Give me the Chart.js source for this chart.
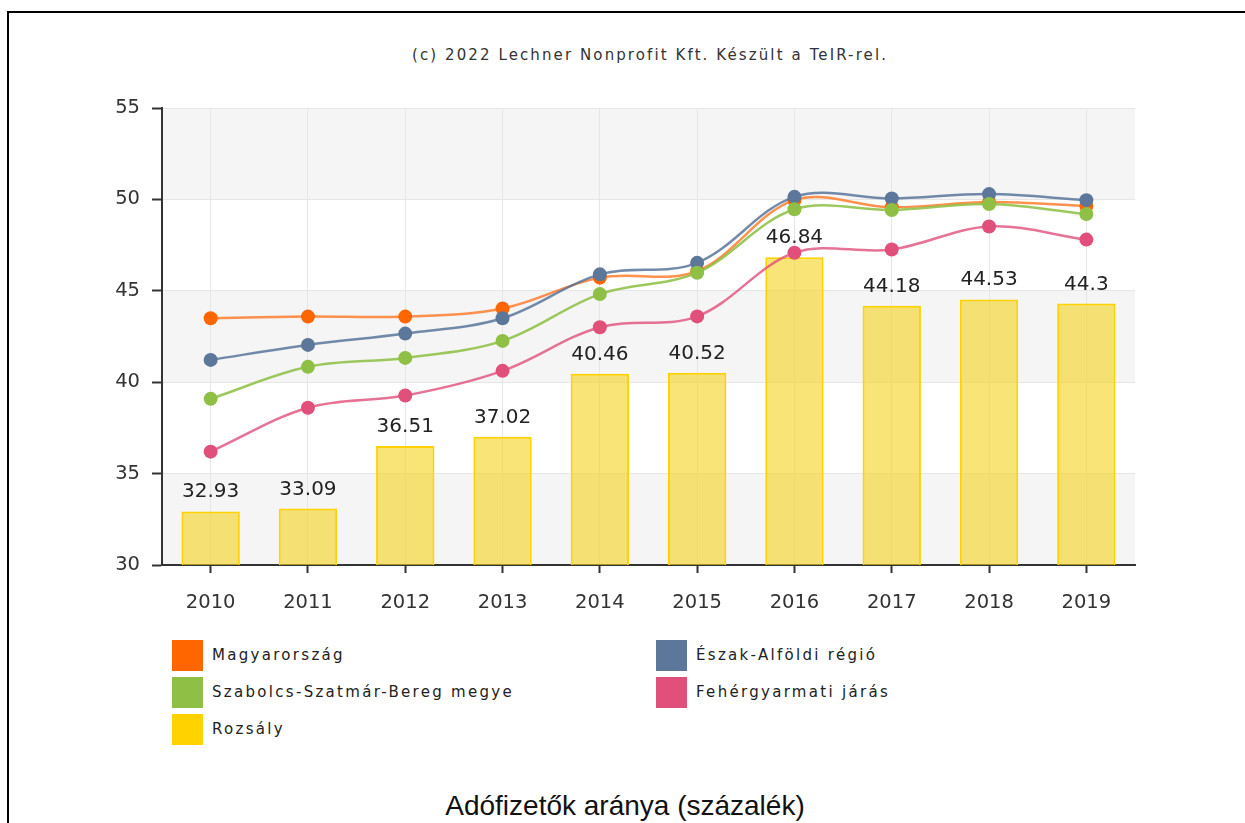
<!DOCTYPE html>
<html>
<head>
<meta charset="utf-8">
<script src="https://cdn.jsdelivr.net/npm/chart.js@4.4.1/dist/chart.umd.min.js"></script>
<style>
body{margin:0;background:#fff;width:1245px;height:823px;overflow:hidden;position:relative;font-family:"DejaVu Sans",sans-serif;}
#frame{position:absolute;left:7px;top:11px;width:1300px;height:900px;border:2px solid #000;}
#credit{position:absolute;left:0;top:45px;width:1300px;text-align:center;font-size:15px;letter-spacing:2.1px;color:#333;line-height:20px;}
#chartBox{position:absolute;left:0;top:0;}
.lg{position:absolute;height:31px;line-height:31px;font-size:15px;letter-spacing:2.3px;color:#222;white-space:nowrap;}
.lg span{position:absolute;left:0;top:0;width:31px;height:31px;}
.lg b{position:absolute;left:40px;top:0;font-weight:normal;}
#title{position:absolute;left:0;top:790px;width:1250px;text-align:center;font-family:"Liberation Sans",Arial,sans-serif;font-size:28px;line-height:32px;color:#111;}
</style>
</head>
<body>
<div id="frame"></div>
<div id="credit">(c) 2022 Lechner Nonprofit Kft. Készült a TeIR-rel.</div>
<div id="chartBox"><canvas id="chart" width="1245" height="640"></canvas></div>
<div id="legend"></div>
<div id="title">Adófizetők aránya (százalék)</div>
<script>
// adatok
var years = ['2010', '2011', '2012', '2013', '2014', '2015', '2016', '2017', '2018', '2019'];
var magyarorszag = [43.5, 43.59, 43.59, 44.03, 45.72, 46.08, 49.96, 49.57, 49.86, 49.64];
var eszakAlfold = [41.22, 42.04, 42.66, 43.5, 45.9, 46.53, 50.14, 50.05, 50.29, 49.96];
var szabolcs = [39.09, 40.84, 41.33, 42.26, 44.82, 45.99, 49.46, 49.42, 49.75, 49.2];
var fehergyarmat = [36.2, 38.6, 39.27, 40.62, 43.01, 43.6, 47.08, 47.26, 48.52, 47.8];
var rozsaly = [32.93, 33.09, 36.51, 37.02, 40.46, 40.52, 46.84, 44.18, 44.53, 44.3];
var seriesNames = ['Magyarország', 'Észak-Alföldi régió', 'Szabolcs-Szatmár-Bereg megye', 'Fehérgyarmati járás', 'Rozsály'];
var seriesColors = ['#ff6600', '#5c7799', '#8fbf45', '#e0507a', '#ffd200'];
var yTicks = [30, 35, 40, 45, 50, 55];

var lineColors = ['rgba(255,110,20,0.75)', 'rgba(80,110,150,0.8)', 'rgba(140,190,65,0.85)', 'rgba(224,80,122,0.8)'];

// legenda
var legend = document.getElementById('legend');
seriesNames.forEach(function (name, i) {
    var d = document.createElement('div');
    d.className = 'lg';
    d.style.left = (172 + (i % 2) * 484) + 'px';
    d.style.top = (640 + Math.floor(i / 2) * 37) + 'px';
    d.innerHTML = '<span style="background:' + seriesColors[i] + '"></span><b>' + name + '</b>';
    legend.appendChild(d);
});

function lineSet(idx, data, order) {
    return {
        type: 'line',
        label: seriesNames[idx],
        data: data,
        borderColor: lineColors[idx],
        borderWidth: 2.5,
        backgroundColor: seriesColors[idx],
        pointBackgroundColor: seriesColors[idx],
        pointBorderWidth: 0,
        pointRadius: 7,
        tension: 0.35,
        fill: false,
        order: order
    };
}

var bandPlugin = {
    id: 'bands',
    beforeDraw: function (chart) {
        var ctx = chart.ctx, a = chart.chartArea, y = chart.scales.y;
        ctx.save();
        ctx.fillStyle = '#f5f5f5';
        for (var i = 0; i < yTicks.length - 1; i += 2) {
            var top = y.getPixelForValue(yTicks[i + 1]);
            var bot = y.getPixelForValue(yTicks[i]);
            ctx.fillRect(a.left, top, a.right - a.left, bot - top);
        }
        ctx.restore();
    }
};

var labelPlugin = {
    id: 'barLabels',
    afterDatasetsDraw: function (chart) {
        var ctx = chart.ctx;
        var meta = chart.getDatasetMeta(4);
        ctx.save();
        ctx.font = '20px "DejaVu Sans"';
        ctx.fillStyle = '#222';
        ctx.textAlign = 'center';
        ctx.textBaseline = 'alphabetic';
        meta.data.forEach(function (bar, i) {
            ctx.fillText(String(rozsaly[i]), bar.x, bar.y - 14);
        });
        ctx.restore();
    }
};

new Chart(document.getElementById('chart').getContext('2d'), {
    type: 'bar',
    data: {
        labels: years,
        datasets: [
            lineSet(3, fehergyarmat, 1),
            lineSet(2, szabolcs, 2),
            lineSet(1, eszakAlfold, 3),
            lineSet(0, magyarorszag, 4),
            {
                type: 'bar',
                label: seriesNames[4],
                data: rozsaly,
                backgroundColor: 'rgba(245,210,30,0.6)',
                borderColor: '#ffd200',
                borderWidth: 2,
                barPercentage: 0.6,
                categoryPercentage: 1,
                order: 5
            }
        ]
    },
    options: {
        responsive: false,
        animation: false,
        layout: {padding: {left: 100, right: 110, top: 108, bottom: 20}},
        plugins: {legend: {display: false}, tooltip: {enabled: false}},
        scales: {
            x: {
                offset: true,
                grid: {offset: false, color: '#e6e6e6', tickColor: '#333', tickLength: 8, tickWidth: 2},
                border: {color: '#333', width: 2},
                ticks: {color: '#333', padding: 18, font: {family: 'DejaVu Sans', size: 19.5}},
                afterFit: function (s) { s.height = 55; }
            },
            y: {
                min: 30,
                max: 55,
                grid: {color: '#e6e6e6', tickColor: '#333', tickLength: 10, tickWidth: 2},
                border: {color: '#333', width: 2},
                ticks: {stepSize: 5, color: '#333', padding: 12, font: {family: 'DejaVu Sans', size: 19.5}},
                afterFit: function (s) { s.width = 62; }
            }
        }
    },
    plugins: [bandPlugin, labelPlugin]
});
</script>
</body>
</html>
